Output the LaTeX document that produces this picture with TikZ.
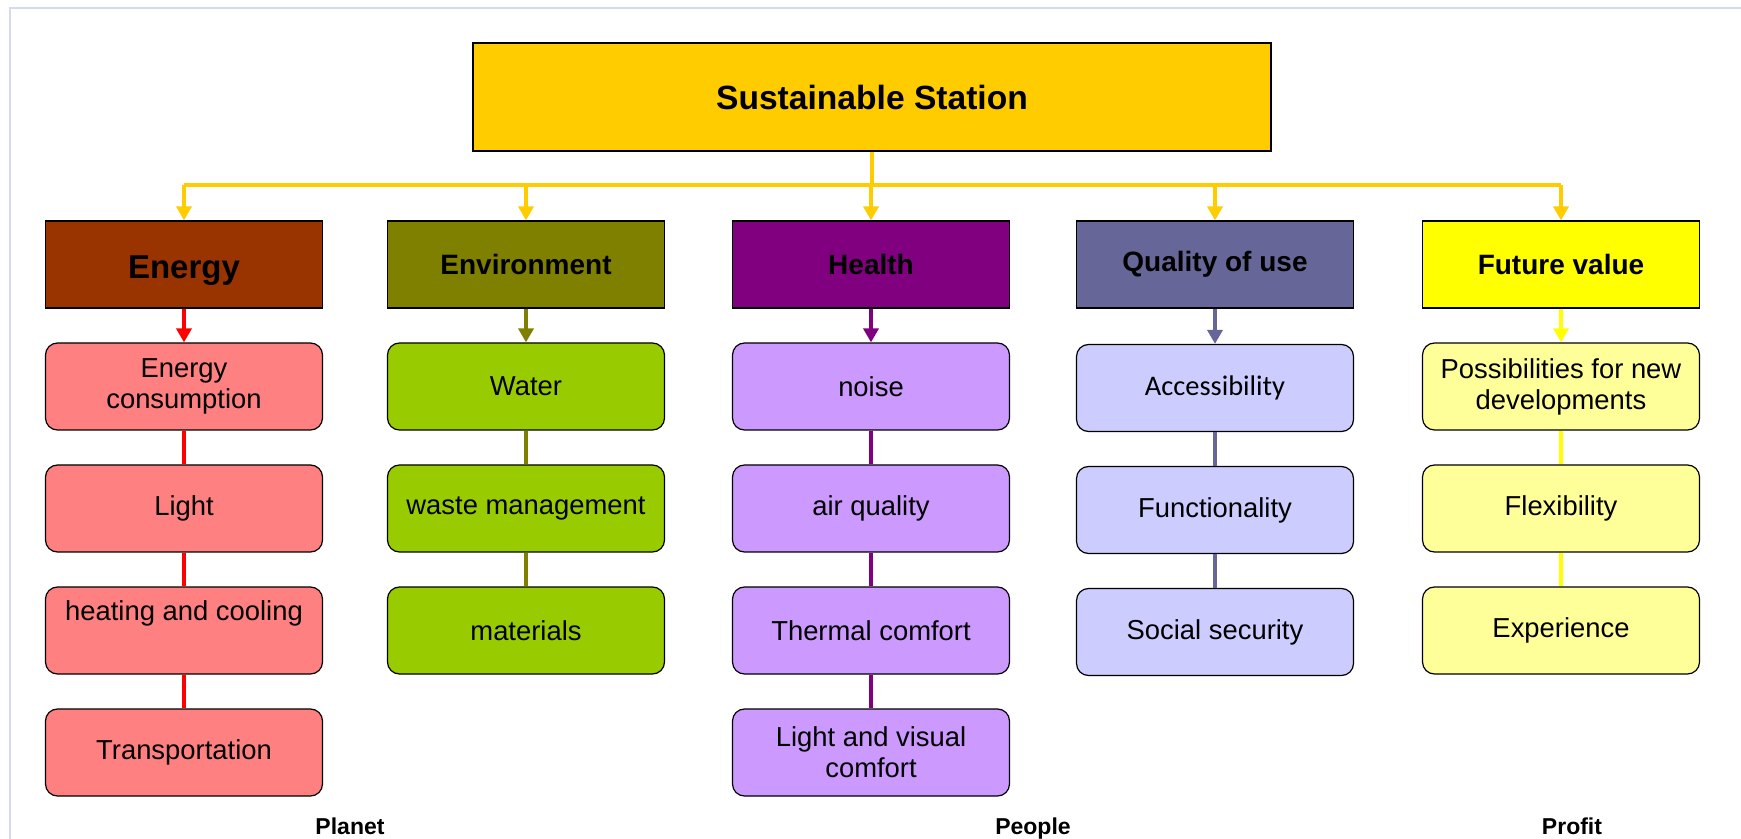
\documentclass[tikz,border=0pt]{standalone}
\usepackage{fontspec}
\setmainfont{Liberation Sans}
\newfontfamily\califont{Carlito}
\usetikzlibrary{arrows.meta}
\usepackage{xcolor}

\definecolor{stationgold}{RGB}{255,204,0}
\definecolor{framegray}{RGB}{213,219,234}
\definecolor{energyhead}{RGB}{153,51,0}
\definecolor{energysub}{RGB}{255,128,128}
\definecolor{energyline}{RGB}{255,0,0}
\definecolor{environhead}{RGB}{128,128,0}
\definecolor{environsub}{RGB}{153,204,0}
\definecolor{healthhead}{RGB}{128,0,128}
\definecolor{healthsub}{RGB}{204,153,255}
\definecolor{qualityhead}{RGB}{102,102,153}
\definecolor{qualitysub}{RGB}{204,204,255}
\definecolor{futurehead}{RGB}{255,255,0}
\definecolor{futuresub}{RGB}{255,255,153}

\tikzset{
  headbox/.style={draw=black, line width=0.6pt, minimum width=138.5pt, minimum height=43.5pt,
    inner sep=0pt, font=\fontsize{14}{16}\selectfont\bfseries},
  subbox/.style={draw=black, line width=0.6pt, rounded corners=6pt, minimum width=138.5pt,
    minimum height=43.5pt, inner sep=1pt, align=center, font=\fontsize{13.7}{15.5}\selectfont},
  link/.style={line width=2.2pt},
  tip/.style={-{Triangle[width=7.5pt,length=7pt]}},
  pillar/.style={anchor=base, font=\fontsize{11.5}{13}\selectfont\bfseries}
}

\begin{document}
\begin{tikzpicture}[x=0.5pt,y=-0.5pt]
        \useasboundingbox (0,0) rectangle (1741,839);

        % frame
        \draw [framegray, line width=1pt] (10,839) -- (10,8) -- (1741,8);

        % top box
        \node [headbox, fill=stationgold, minimum width=399pt, minimum height=54pt,
          font=\fontsize{16.8}{19}\selectfont\bfseries] (station) at (872,97) {Sustainable Station};

        % category boxes
        \node [headbox, fill=energyhead, text height=14pt, text depth=0pt,
          font=\fontsize{16.5}{19}\selectfont\bfseries] (energy) at (184,264.5) {Energy};
        \node [headbox, fill=environhead] (environ) at (526,264.5) {Environment};
        \node [headbox, fill=healthhead] (health) at (871,264.5) {Health};
        \node [headbox, fill=qualityhead] (quality) at (1215,264.5) {Quality of use};
        \node [headbox, fill=futurehead] (future) at (1561,264.5) {Future value};

        % Energy column
        \node [subbox, fill=energysub] (e1) at (184,386.5) {Energy\\consumption};
        \node [subbox, fill=energysub] (e2) at (184,508.5) {Light};
        \node [subbox, fill=energysub, text height=10pt, text depth=20pt] (e3) at (184,630.5) {heating and cooling};
        \node [subbox, fill=energysub] (e4) at (184,752.5) {Transportation};

        % Environment column
        \node [subbox, fill=environsub] (v1) at (526,386.5) {Water};
        \node [subbox, fill=environsub] (v2) at (526,508.5) {waste management};
        \node [subbox, fill=environsub] (v3) at (526,630.5) {materials};

        % Health column
        \node [subbox, fill=healthsub] (h1) at (871,386.5) {noise};
        \node [subbox, fill=healthsub] (h2) at (871,508.5) {air quality};
        \node [subbox, fill=healthsub] (h3) at (871,630.5) {Thermal comfort};
        \node [subbox, fill=healthsub] (h4) at (871,752.5) {Light and visual\\comfort};

        % Quality column
        \node [subbox, fill=qualitysub, font=\califont\fontsize{14.2}{16}\selectfont] (q1) at (1215,388) {Accessibility};
        \node [subbox, fill=qualitysub] (q2) at (1215,510) {Functionality};
        \node [subbox, fill=qualitysub] (q3) at (1215,632) {Social security};

        % Future column
        \node [subbox, fill=futuresub] (f1) at (1561,386.5) {Possibilities for new\\developments};
        \node [subbox, fill=futuresub] (f2) at (1561,508.5) {Flexibility};
        \node [subbox, fill=futuresub] (f3) at (1561,630.5) {Experience};

        % bus from the top box
        \coordinate (busL) at (184,185);
        \coordinate (busR) at (1561,185);
        \draw [link, stationgold] (station.south) -- (station.south |- busL);
        \draw [link, stationgold] (busL) -- (busR);
        \foreach \h in {energy,environ,health,quality,future}
          \draw [link, tip, stationgold] (\h.north |- busL) -- (\h.north);

        % column links
        \draw [link, tip, energyline] (energy) -- (e1);
        \draw [link, tip, environhead] (environ) -- (v1);
        \draw [link, tip, healthhead] (health) -- (h1);
        \draw [link, tip, qualityhead] (quality) -- (q1);
        \draw [link, tip, futurehead] (future) -- (f1);
        \foreach \a/\b in {e1/e2,e2/e3,e3/e4}
          \draw [link, energyline] (\a) -- (\b);
        \foreach \a/\b in {v1/v2,v2/v3}
          \draw [link, environhead] (\a) -- (\b);
        \foreach \a/\b in {h1/h2,h2/h3,h3/h4}
          \draw [link, healthhead] (\a) -- (\b);
        \foreach \a/\b in {q1/q2,q2/q3}
          \draw [link, qualityhead] (\a) -- (\b);
        \foreach \a/\b in {f1/f2,f2/f3}
          \draw [link, futurehead] (\a) -- (\b);

        % Text Node
        \node [pillar] (planet) at (350,834) {Planet};
        \node [pillar] (people) at (1033,834) {People};
        \node [pillar] (profit) at (1572,834) {Profit};

\end{tikzpicture}
\end{document}
